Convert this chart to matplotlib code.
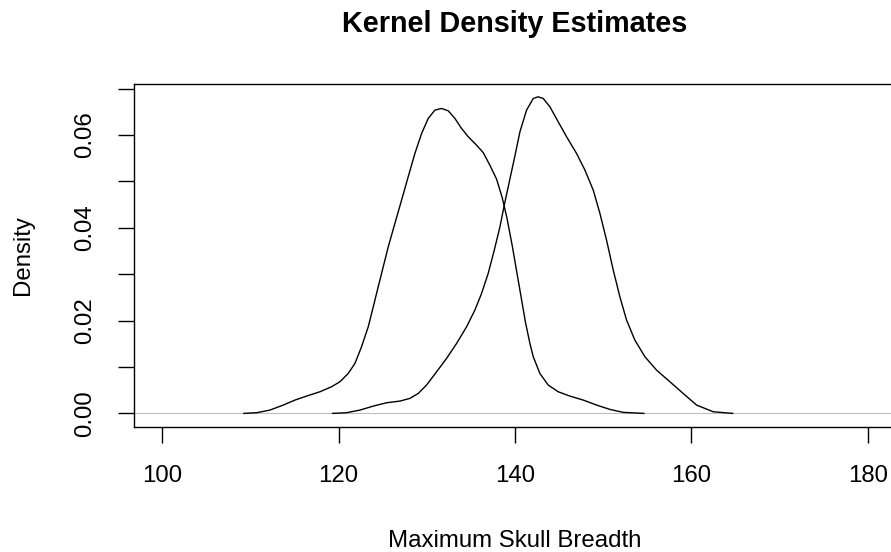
import numpy as np
import matplotlib
matplotlib.use("Agg")
import matplotlib.pyplot as plt

plt.rcParams['font.family'] = ['Liberation Sans', 'DejaVu Sans']

# density curves (x = skull breadth, y = density)
breadth_a = [109.26, 110.70, 112.21, 113.72, 115.05, 116.37, 117.88, 119.20, 120.15, 121.09,
             121.85, 122.60, 123.36, 123.93, 124.49, 125.06, 125.63, 126.38, 127.14, 127.89,
             128.65, 129.41, 130.16, 130.92, 131.67, 132.43, 133.19, 133.94, 134.70, 135.64,
             136.40, 137.15, 137.91, 138.55, 139.10, 139.70, 140.20, 140.70, 141.20, 141.70,
             142.07, 142.82, 143.77, 144.90, 146.22, 147.74, 149.25, 150.76, 152.27, 154.61]
density_a = [0.00000, 0.00014, 0.00071, 0.00179, 0.00287, 0.00373, 0.00466, 0.00574, 0.00682, 0.00861,
             0.01077, 0.01436, 0.01867, 0.02298, 0.02729, 0.03160, 0.03591, 0.04094, 0.04597, 0.05100,
             0.05603, 0.06034, 0.06357, 0.06537, 0.06573, 0.06522, 0.06357, 0.06142, 0.05962, 0.05782,
             0.05620, 0.05350, 0.05050, 0.04650, 0.04200, 0.03600, 0.03050, 0.02500, 0.01950, 0.01500,
             0.01221, 0.00861, 0.00610, 0.00466, 0.00373, 0.00287, 0.00179, 0.00086, 0.00022, 0.00000]

breadth_b = [119.32, 120.90, 122.41, 123.93, 125.44, 126.95, 128.08, 129.03, 129.97, 131.11,
             132.24, 133.38, 134.51, 135.45, 136.21, 136.96, 137.65, 138.29, 138.85, 139.42,
             139.99, 140.56, 141.31, 142.07, 142.63, 143.20, 143.96, 144.90, 145.85, 146.98,
             147.93, 148.87, 149.63, 150.38, 151.14, 151.89, 152.65, 153.59, 154.73, 156.05,
             157.56, 159.07, 160.59, 162.47, 164.67]
density_b = [0.00000, 0.00014, 0.00071, 0.00157, 0.00229, 0.00265, 0.00323, 0.00430, 0.00610, 0.00897,
             0.01185, 0.01508, 0.01867, 0.02226, 0.02586, 0.03017, 0.03519, 0.04020, 0.04550, 0.05050,
             0.05550, 0.06070, 0.06537, 0.06788, 0.06824, 0.06788, 0.06608, 0.06285, 0.05962, 0.05603,
             0.05244, 0.04813, 0.04310, 0.03735, 0.03088, 0.02514, 0.02011, 0.01580, 0.01221, 0.00933,
             0.00682, 0.00430, 0.00179, 0.00035, 0.00000]

x_ticks = [100, 120, 140, 160, 180]
y_ticks = [0.00, 0.01, 0.02, 0.03, 0.04, 0.05, 0.06, 0.07]
y_labels = ['0.00', '', '0.02', '', '0.04', '', '0.06', '']

W, H = 891, 552
fig = plt.figure(figsize=(W / 100, H / 100), dpi=100)

# plot box in pixels (right edge falls just outside the image, like the original)
left, right, top, bottom = 134, 896, 84, 426.7
ax = fig.add_axes([left / W, 1 - bottom / H, (right - left) / W, (bottom - top) / H])

ax.axhline(0, color='#BEBEBE', lw=0.8, zorder=1)
ax.plot(breadth_a, density_a, color='black', lw=1.0, solid_joinstyle='round')
ax.plot(breadth_b, density_b, color='black', lw=1.0, solid_joinstyle='round')

ax.set_xlim(96.8, 183.2)
ax.set_ylim(-0.00287, 0.0710)

for s in ax.spines.values():
    s.set_linewidth(1.0)

ax.set_xticks(x_ticks)
ax.set_yticks(y_ticks)
ax.set_yticklabels(y_labels)
ax.tick_params(axis='both', direction='out', length=11.5, width=1.0, labelsize=17.3)
ax.tick_params(axis='x', pad=16)
ax.tick_params(axis='y', pad=16)
for lab in ax.get_yticklabels():
    lab.set_rotation(90)
    lab.set_va('center')

fig.text(515 / W, 1 - 31.7 / H, 'Kernel Density Estimates', ha='center', va='baseline',
         fontsize=20.7, fontweight='bold')
fig.text(515 / W, 1 - 546.7 / H, 'Maximum Skull Breadth', ha='center', va='baseline',
         fontsize=17.3)
fig.text(33.5 / W, 1 - 255 / H, 'Density', ha='right', va='center', rotation=90,
         fontsize=17.3)

fig.savefig('out.png', dpi=100)
